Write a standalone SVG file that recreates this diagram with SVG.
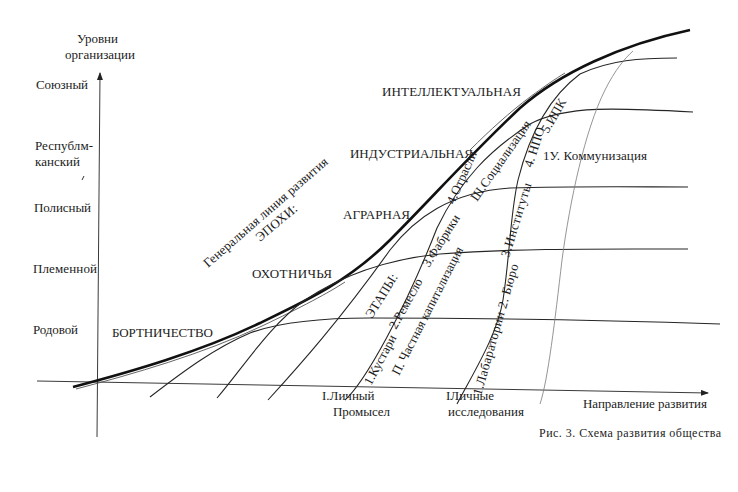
<svg xmlns="http://www.w3.org/2000/svg" width="738" height="492" viewBox="0 0 738 492">
<style>
.t{font-family:"Liberation Serif","Times New Roman",serif;font-size:13px;fill:#1c1c1c}
.s{font-size:12px}
.ax{stroke:#3a3a3a;stroke-width:1;fill:none}
.thin{stroke:#262626;stroke-width:1.1;fill:none}
.thick{stroke:#111;stroke-width:2.6;fill:none}
.dbl{stroke:#555;stroke-width:0.9;fill:none}
.grey{stroke:#7a7a7a;stroke-width:0.8;fill:none}
</style>
<defs>
<marker id="arr" markerWidth="8" markerHeight="6" refX="7" refY="3" orient="auto" markerUnits="userSpaceOnUse">
<path d="M0,0 L8,3 L0,6 Z" fill="#222"/>
</marker>
</defs>
<rect width="738" height="492" fill="#fff"/>
<g id="axes">
<line class="ax" x1="97" y1="437" x2="100" y2="73" marker-end="url(#arr)"/>
<line class="ax" x1="37" y1="381" x2="708" y2="393" marker-end="url(#arr)"/>
<line x1="82" y1="180" x2="84" y2="176" stroke="#333" stroke-width="1"/>
</g>
<g id="connectors">
<path id="general" class="thick" d="M73,387 C130,372 200,352 260,323 C310,299 350,280 390,240 C430,200 470,155 520,108 C560,73 620,45 690,30"/>
<path class="dbl" d="M76,389 C133,374 203,354 262,326 C300,308 330,292 345,282"/>
<path class="dbl" d="M470,150 C490,130 510,112 530,97 C545,86 555,79 565,73"/>
<path id="rodovoy" class="thin" d="M150,397 C185,370 215,348 250,333 C280,322 320,318 370,318 C480,318 600,320 720,324"/>
<path id="plemennoy" class="thin" d="M217,398 C245,365 270,325 305,300 C335,280 380,260 440,254 C520,248 600,249 688,249"/>
<path id="polisny" class="thin" d="M268,400 C300,365 340,320 390,250 C415,218 450,192 510,188 C580,186 640,187 688,187"/>
<path id="respubl" class="thin" d="M345,400 C365,382 405,310 437,228 C460,180 490,150 530,124 C565,105 620,108 693,112"/>
<path id="soyuzny" class="thin" d="M457,404 C475,370 497,335 503,300 C510,255 510,215 518,180 C528,140 545,100 580,74 C610,60 640,58 677,58"/>
<path id="kommun" class="grey" d="M540,404 C548,380 555,320 562,260 C570,200 585,130 605,90 C615,70 625,58 633,51"/>
</g>
<g id="axis-labels">
<text class="t" x="77" y="43" textLength="41">Уровни</text>
<text class="t" x="65" y="59" textLength="70">организации</text>
<text class="t" x="36" y="89" textLength="52">Союзный</text>
<text class="t" x="35" y="150" textLength="58">Республм-</text>
<text class="t" x="35" y="166" textLength="45">канский</text>
<text class="t" x="34" y="212" textLength="57">Полисный</text>
<text class="t" x="33" y="273" textLength="64">Племенной</text>
<text class="t" x="33" y="334" textLength="45">Родовой</text>
<text class="t" x="583" y="408" textLength="124">Направление развития</text>
<text class="t s" x="539" y="437" textLength="182">Рис. 3. Схема развития общества</text>
</g>
<g id="epochs">
<text class="t" x="382" y="96" textLength="139">ИНТЕЛЛЕКТУАЛЬНАЯ</text>
<text class="t" x="350" y="158" textLength="123">ИНДУСТРИАЛЬНАЯ</text>
<text class="t" x="343" y="219" textLength="67">АГРАРНАЯ</text>
<text class="t" x="252" y="278" textLength="80">ОХОТНИЧЬЯ</text>
<text class="t" x="112" y="337" textLength="101">БОРТНИЧЕСТВО</text>
<text class="t" x="543" y="160" textLength="104">1У. Коммунизация</text>
<text class="t" transform="translate(208,268) rotate(-41)" textLength="160">Генеральная линия развития</text>
<text class="t" transform="translate(260,242) rotate(-40)" textLength="50">ЭПОХИ:</text>
</g>
<g id="stages">
<text class="t" transform="translate(372,319) rotate(-58)">ЭТАПЫ:</text>
<text class="t" transform="translate(371,386) rotate(-62)">1.Кустари</text>
<text class="t" transform="translate(396,330) rotate(-61)">2.Ремесло</text>
<text class="t" transform="translate(429,268) rotate(-58)">3.Фабрики</text>
<text class="t" transform="translate(454,205) rotate(-66)">4.Отрасли</text>
<text class="t" transform="translate(399,376) rotate(-63)" textLength="142">П. Частная капитализация</text>
<text class="t" transform="translate(477,202) rotate(-55)" textLength="95">Ш.Социализация</text>
<text class="t" transform="translate(481,396) rotate(-74)" textLength="136">1.Лабаратории 2. Бюро</text>
<text class="t" transform="translate(509,258) rotate(-73)" textLength="77">3.Институты</text>
<text class="t" transform="translate(532,168) rotate(-72)">4. НПО</text>
<text class="t" transform="translate(548,134) rotate(-60)">5.ИПК</text>
</g>
<g id="bottom-labels">
<text class="t" x="322" y="400">I.Личный</text>
<text class="t" x="333" y="416" textLength="57">Промысел</text>
<text class="t" x="446" y="400">IЛичные</text>
<text class="t" x="448" y="416" textLength="76">исследования</text>
</g>
</svg>
